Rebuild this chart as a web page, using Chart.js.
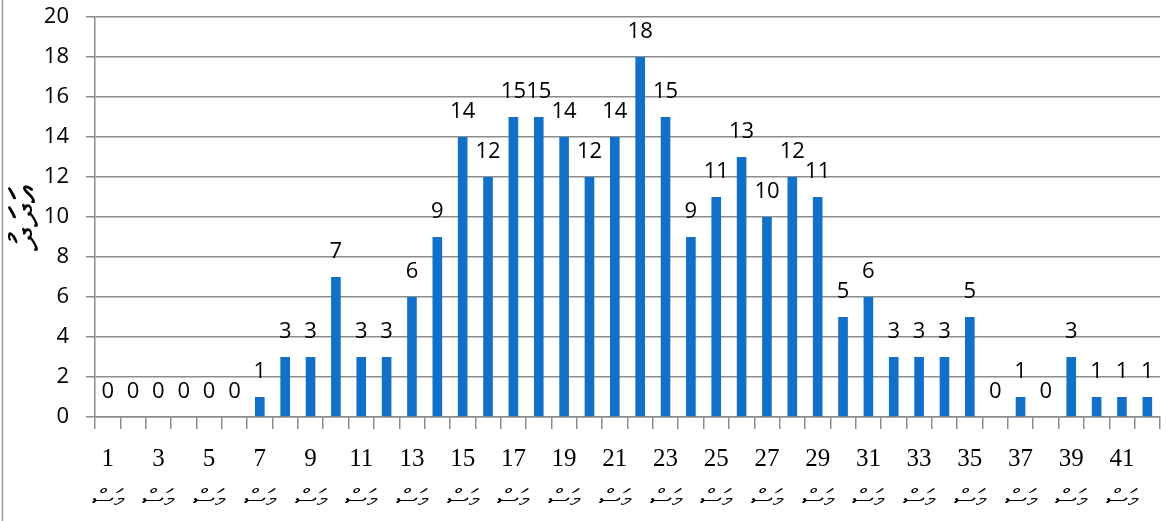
<!DOCTYPE html>
<html>
<head>
<meta charset="utf-8">
<script src="https://cdn.jsdelivr.net/npm/chart.js@4/dist/chart.umd.min.js"></script>
<style>
  html, body { margin: 0; padding: 0; background: #fff; }
  #wrap { width: 1166px; height: 521px; position: relative; }
</style>
</head>
<body>
<div id="wrap"><canvas id="chart" width="1166" height="521"></canvas></div>
<script>
// data
var aCategories = [];
for (var i = 1; i <= 42; i++) aCategories.push(String(i));
var aValues = [0, 0, 0, 0, 0, 0, 1, 3, 3, 7, 3, 3, 6, 9, 14, 12, 15, 15, 14, 12, 14,
               18, 15, 9, 11, 13, 10, 12, 11, 5, 6, 3, 3, 3, 5, 0, 1, 0, 3, 1, 1, 1];
var sUnit = 'މަސް';        // word under every shown category number
var sYTitle = 'އަދަދު';     // y axis title

var sBarColor = '#1170c8';
var sGridColor = '#8c8c8c';

// draws the value above each bar, like the office chart labels
var oValueLabels = {
    id: 'valueLabels',
    afterDatasetsDraw: function(chart) {
        var ctx = chart.ctx;
        var meta = chart.getDatasetMeta(0);
        ctx.save();
        ctx.font = '22px "Open Sans", sans-serif';
        ctx.fillStyle = '#000';
        ctx.textAlign = 'center';
        ctx.textBaseline = 'alphabetic';
        meta.data.forEach(function(bar, i) {
            ctx.fillText(String(aValues[i]), bar.x, bar.y - 19);
        });
        ctx.restore();
    }
};

// thin frame line on the left edge of the picture
var oFrame = {
    id: 'frame',
    afterDraw: function(chart) {
        var ctx = chart.ctx;
        ctx.save();
        ctx.strokeStyle = '#9a9a9a';
        ctx.lineWidth = 1.5;
        ctx.beginPath();
        ctx.moveTo(2.5, 0);
        ctx.lineTo(2.5, chart.height);
        ctx.stroke();
        ctx.restore();
    }
};

new Chart(document.getElementById('chart'), {
    type: 'bar',
    data: {
        labels: aCategories,
        datasets: [{
            data: aValues,
            backgroundColor: sBarColor,
            borderWidth: 0,
            categoryPercentage: 1,
            barPercentage: 0.38
        }]
    },
    options: {
        responsive: false,
        animation: false,
        devicePixelRatio: 1,
        layout: { padding: { top: 17, right: 6, left: 0, bottom: 0 } },
        plugins: {
            legend: { display: false },
            tooltip: { enabled: false }
        },
        scales: {
            x: {
                grid: {
                    offset: true,
                    drawOnChartArea: false,
                    drawTicks: true,
                    tickLength: 12,
                    color: sGridColor,
                    lineWidth: 1.5
                },
                border: { color: sGridColor, width: 1.5 },
                ticks: {
                    autoSkip: false,
                    maxRotation: 0,
                    minRotation: 0,
                    padding: 10,
                    color: '#000',
                    font: { family: '"Liberation Serif", serif', size: 25, lineHeight: 1.65 },
                    callback: function(value, index) {
                        return index % 2 === 0 ? [aCategories[index], sUnit] : '';
                    }
                },
                afterFit: function(scale) { scale.height = 104; }
            },
            y: {
                min: 0,
                max: 20,
                ticks: {
                    stepSize: 2,
                    padding: 17,
                    color: '#000',
                    font: { family: '"Open Sans", sans-serif', size: 22 }
                },
                grid: {
                    color: sGridColor,
                    lineWidth: 1.5,
                    tickLength: 9
                },
                border: { color: sGridColor, width: 1.5 },
                title: {
                    display: true,
                    text: sYTitle,
                    color: '#000',
                    padding: { top: 4, bottom: 0 },
                    font: { family: '"DejaVu Sans", sans-serif', size: 40 }
                },
                afterFit: function(scale) {
                    scale.width = 95;
                    scale.paddingTop = 0;
                    scale.paddingBottom = 0;
                }
            }
        }
    },
    plugins: [oValueLabels, oFrame]
});
</script>
</body>
</html>
